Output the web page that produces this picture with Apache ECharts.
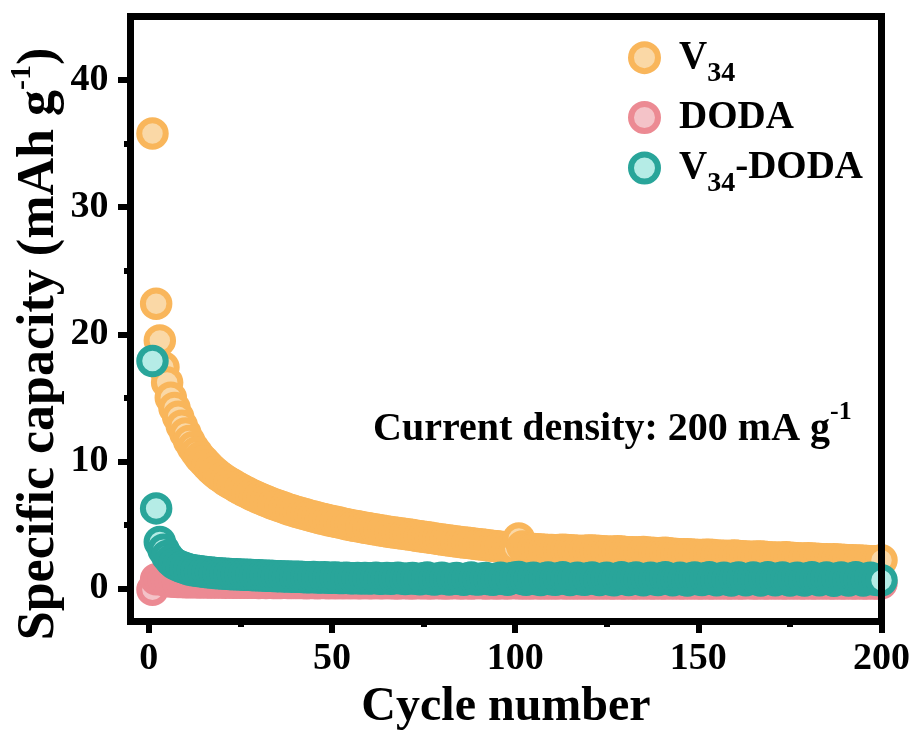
<!DOCTYPE html>
<html>
<head>
<meta charset="utf-8">
<script src="https://cdn.jsdelivr.net/npm/echarts@6/dist/echarts.min.js"></script>
<style>
  html, body { margin: 0; padding: 0; background: #fff; }
  #chart { width: 917px; height: 740px; }
</style>
</head>
<body>
<div id="chart"></div>
<script>
// Cycle numbers
const cycles = Array.from({ length: 200 }, (_, i) => i + 1);

// Specific capacity (mAh g-1) per cycle
const capV34 = [
  35.8, 22.4, 19.5, 17.4, 16.2, 15.0, 14.2, 13.5, 12.8, 12.2,
  11.6, 11.1, 10.7, 10.3, 10.0, 9.7, 9.4, 9.15, 8.9, 8.7,
  8.5, 8.32, 8.15, 7.98, 7.82, 7.66, 7.52, 7.38, 7.25, 7.12,
  7.0, 6.88, 6.76, 6.65, 6.55, 6.44, 6.34, 6.24, 6.15, 6.06,
  5.97, 5.89, 5.81, 5.73, 5.66, 5.58, 5.51, 5.44, 5.37, 5.3,
  5.24, 5.18, 5.12, 5.06, 5.0, 4.94, 4.89, 4.83, 4.78, 4.73,
  4.68, 4.63, 4.58, 4.54, 4.49, 4.45, 4.41, 4.37, 4.33, 4.29,
  4.24, 4.2, 4.15, 4.11, 4.06, 4.02, 3.98, 3.94, 3.9, 3.86,
  3.82, 3.78, 3.74, 3.7, 3.66, 3.62, 3.59, 3.55, 3.52, 3.48,
  3.45, 3.41, 3.38, 3.35, 3.32, 3.28, 3.25, 3.22, 3.19, 3.16,
  3.93, 3.3, 3.15, 3.12, 3.1, 3.08, 3.06, 3.05, 3.03, 3.02,
  3.0, 3.02, 3.05, 3.03, 3.0, 2.98, 2.97, 2.95, 2.97, 2.99,
  2.98, 2.96, 2.94, 2.92, 2.9, 2.89, 2.91, 2.93, 2.9, 2.87,
  2.85, 2.84, 2.82, 2.84, 2.86, 2.83, 2.8, 2.78, 2.77, 2.79,
  2.8, 2.77, 2.74, 2.72, 2.7, 2.69, 2.7, 2.68, 2.66, 2.64,
  2.63, 2.65, 2.66, 2.63, 2.6, 2.58, 2.57, 2.56, 2.58, 2.59,
  2.56, 2.53, 2.51, 2.5, 2.49, 2.51, 2.52, 2.49, 2.46, 2.44,
  2.43, 2.42, 2.44, 2.45, 2.42, 2.39, 2.37, 2.36, 2.35, 2.37,
  2.36, 2.33, 2.31, 2.3, 2.29, 2.28, 2.3, 2.27, 2.25, 2.23,
  2.22, 2.21, 2.2, 2.19, 2.18, 2.16, 2.15, 2.14, 2.13, 2.22
];

const capDODA = [
  -0.1, 0.72, 0.78, 0.66, 0.58, 0.54, 0.52, 0.5, 0.5, 0.49,
  0.49, 0.48, 0.48, 0.47, 0.48, 0.47, 0.46, 0.47, 0.46, 0.46,
  0.45, 0.46, 0.45, 0.45, 0.44, 0.45, 0.44, 0.45, 0.44, 0.43,
  0.44, 0.43, 0.44, 0.43, 0.42, 0.43, 0.44, 0.42, 0.43, 0.42,
  0.43, 0.42, 0.41, 0.43, 0.42, 0.41, 0.42, 0.43, 0.41, 0.42,
  0.41, 0.42, 0.4, 0.42, 0.41, 0.43, 0.4, 0.41, 0.42, 0.4,
  0.41, 0.42, 0.4, 0.41, 0.43, 0.4, 0.41, 0.39, 0.42, 0.4,
  0.41, 0.39, 0.42, 0.4, 0.41, 0.4, 0.39, 0.42, 0.4, 0.41,
  0.39, 0.41, 0.4, 0.42, 0.39, 0.4, 0.41, 0.39, 0.4, 0.42,
  0.4, 0.39, 0.41, 0.4, 0.38, 0.41, 0.4, 0.39, 0.42, 0.4,
  0.41, 0.39, 0.4, 0.38, 0.41, 0.4, 0.39, 0.41, 0.38, 0.4,
  0.39, 0.41, 0.4, 0.38, 0.4, 0.39, 0.41, 0.38, 0.4, 0.39,
  0.4, 0.38, 0.41, 0.39, 0.4, 0.38, 0.39, 0.41, 0.39, 0.38,
  0.4, 0.39, 0.38, 0.41, 0.39, 0.4, 0.38, 0.39, 0.4, 0.38,
  0.39, 0.41, 0.38, 0.4, 0.39, 0.38, 0.4, 0.39, 0.41, 0.38,
  0.39, 0.4, 0.38, 0.39, 0.41, 0.38, 0.4, 0.39, 0.38, 0.4,
  0.39, 0.38, 0.4, 0.41, 0.38, 0.39, 0.4, 0.38, 0.39, 0.41,
  0.38, 0.4, 0.39, 0.38, 0.4, 0.39, 0.41, 0.38, 0.39, 0.4,
  0.38, 0.39, 0.41, 0.38, 0.4, 0.39, 0.38, 0.4, 0.39, 0.38,
  0.4, 0.39, 0.38, 0.41, 0.39, 0.38, 0.4, 0.39, 0.38, 0.4
];

const capV34DODA = [
  17.9, 6.3, 3.65, 3.05, 2.55, 2.2, 1.95, 1.8, 1.68, 1.58,
  1.5, 1.44, 1.39, 1.35, 1.31, 1.28, 1.25, 1.22, 1.2, 1.18,
  1.16, 1.14, 1.12, 1.11, 1.09, 1.08, 1.07, 1.05, 1.04, 1.03,
  1.02, 1.0, 0.99, 0.98, 0.97, 0.96, 0.95, 0.94, 0.93, 0.92,
  0.92, 0.9, 0.89, 0.88, 0.9, 0.87, 0.86, 0.88, 0.85, 0.84,
  0.86, 0.83, 0.82, 0.85, 0.81, 0.8, 0.83, 0.79, 0.82, 0.78,
  0.8, 0.84, 0.77, 0.79, 0.82, 0.76, 0.8, 0.85, 0.78, 0.74,
  0.79, 0.83, 0.76, 0.72, 0.8, 0.86, 0.75, 0.71, 0.78, 0.84,
  0.77, 0.7, 0.76, 0.82, 0.74, 0.69, 0.79, 0.86, 0.73, 0.7,
  0.78, 0.83, 0.72, 0.68, 0.77, 0.85, 0.74, 0.69, 0.8, 0.87,
  0.9, 0.75, 0.68, 0.79, 0.84, 0.72, 0.67, 0.78, 0.86, 0.73,
  0.69, 0.81, 0.88, 0.74, 0.66, 0.77, 0.85, 0.72, 0.68, 0.8,
  0.87, 0.75, 0.66, 0.76, 0.84, 0.71, 0.65, 0.79, 0.88, 0.74,
  0.67, 0.78, 0.86, 0.72, 0.64, 0.77, 0.85, 0.73, 0.66, 0.81,
  0.89, 0.76, 0.65, 0.75, 0.84, 0.7, 0.63, 0.78, 0.87, 0.73,
  0.66, 0.8, 0.88, 0.74, 0.64, 0.76, 0.85, 0.71, 0.63, 0.79,
  0.87, 0.75, 0.65, 0.77, 0.86, 0.72, 0.62, 0.78, 0.88, 0.74,
  0.64, 0.79, 0.87, 0.73, 0.63, 0.76, 0.85, 0.7, 0.62, 0.8,
  0.88, 0.75, 0.64, 0.77, 0.86, 0.72, 0.61, 0.78, 0.87, 0.73,
  0.63, 0.79, 0.88, 0.74, 0.62, 0.76, 0.85, 0.7, 0.66, 0.65
];

// Axis ranges and tick settings
const xRange = [-5, 200];
const yRange = [-2.6, 45];
const xTickRange = [0, 200];
const yTickRange = [0, 40];
const xMajor = 50;
const yMajor = 10;

const FONT = 'Liberation Serif';
const W = 917, H = 740;
const frame = { left: 130.5, right: 881.5, top: 16.5, bottom: 621.5 };
const pxX = (frame.right - frame.left) / (xRange[1] - xRange[0]);
const pxY = (frame.bottom - frame.top) / (yRange[1] - yRange[0]);

const grids = [
  { left: frame.left, right: W - frame.right, top: frame.top, bottom: H - frame.bottom },
  { // x tick scale: spans 0..200 horizontally
    left: frame.left + (xTickRange[0] - xRange[0]) * pxX,
    right: W - frame.right + (xRange[1] - xTickRange[1]) * pxX,
    top: frame.top, bottom: H - frame.bottom
  },
  { // y tick scale: spans 0..40 vertically
    left: frame.left, right: W - frame.right,
    top: frame.top + (yRange[1] - yTickRange[1]) * pxY,
    bottom: H - (frame.bottom - (yTickRange[0] - yRange[0]) * pxY)
  }
].map(g => Object.assign(g, { containLabel: false, outerBoundsMode: 'none' }));

const frameLine = { show: true, onZero: false, lineStyle: { color: '#000', width: 7, cap: 'square' } };
const hidden = { show: false };

function frameAxis(gridIndex, position, range) {
  return {
    type: 'value', gridIndex, position, min: range[0], max: range[1],
    axisLine: frameLine, axisTick: hidden, axisLabel: hidden, splitLine: hidden, z: 10
  };
}

const labelStyle = { color: '#000', fontFamily: FONT, fontWeight: 'bold', fontSize: 38 };
const tickLine = { color: '#000', width: 6 };

const series = [
  { name: 'V34', data: capV34, fill: '#FAD8A6', stroke: '#F9B65B' },
  { name: 'DODA', data: capDODA, fill: '#F4C3C8', stroke: '#EC8A93' },
  { name: 'V34-DODA', data: capV34DODA, fill: '#B5ECE6', stroke: '#29A59A' }
].map(s => ({
  type: 'scatter', name: s.name, xAxisIndex: 0, yAxisIndex: 0,
  symbol: 'circle', symbolSize: 26.5, clip: true,
  itemStyle: { color: s.fill, borderColor: s.stroke, borderWidth: 6, opacity: 1 },
  emphasis: { disabled: true },
  data: cycles.map((c, i) => [c, s.data[i]])
}));

const legendLabels = {
  'V34': '{b|V}{s|34}',
  'DODA': '{b|DODA}',
  'V34-DODA': '{b|V}{s|34}{b|-DODA}'
};
const legendRich = {
  b: { fontFamily: FONT, fontWeight: 'bold', fontSize: 39, lineHeight: 58, color: '#000' },
  s: { fontFamily: FONT, fontWeight: 'bold', fontSize: 28, lineHeight: 28, padding: [32, 0, 0, 0], color: '#000' }
};
const legendTops = [27.7, 98, 138];
const legends = series.map((s, i) => ({
  data: [s.name], orient: 'vertical', left: 628, top: legendTops[i], padding: 0,
  itemWidth: 59, itemHeight: 27, selectedMode: false, icon: 'circle',
  itemStyle: { borderWidth: 6 },
  formatter: name => legendLabels[name],
  textStyle: { rich: legendRich }
}));

const option = {
  animation: false,
  backgroundColor: '#fff',
  grid: grids,
  title: {
    text: '{b|Current density: 200 mA g}{p|-1}',
    left: 373, top: 399, padding: 0,
    textStyle: {
      rich: {
        b: { fontFamily: FONT, fontWeight: 'bold', fontSize: 40, color: '#000' },
        p: { fontFamily: FONT, fontWeight: 'bold', fontSize: 26, padding: [0, 0, 36, 0], color: '#000' }
      }
    }
  },
  legend: legends,
  xAxis: [
    Object.assign(frameAxis(0, 'bottom', xRange), {
      name: 'Cycle number', nameLocation: 'middle', nameGap: 62,
      nameTextStyle: { color: '#000', fontFamily: FONT, fontWeight: 'bold', fontSize: 48 }
    }),
    frameAxis(0, 'top', xRange),
    {
      type: 'value', gridIndex: 1, position: 'bottom',
      min: xTickRange[0], max: xTickRange[1], interval: xMajor,
      axisLine: { show: false, onZero: false }, splitLine: hidden,
      axisTick: { show: true, length: 11.5, lineStyle: tickLine },
      minorTick: { show: true, splitNumber: 2, length: 5.5, lineStyle: tickLine },
      axisLabel: Object.assign({ margin: 19 }, labelStyle)
    },
    { type: 'value', gridIndex: 2, show: false, min: 0, max: 1 }
  ],
  yAxis: [
    Object.assign(frameAxis(0, 'left', yRange), {
      name: '{t|Specific capacity (mAh g}{p|-1}{t|)}',
      nameLocation: 'middle', nameGap: 58,
      nameTextStyle: {
        padding: [0, 50, 0, 0],
        rich: {
          t: { fontFamily: FONT, fontWeight: 'bold', fontSize: 52, color: '#000' },
          p: { fontFamily: FONT, fontWeight: 'bold', fontSize: 30, padding: [0, 0, 35, 0], color: '#000' }
        }
      }
    }),
    frameAxis(0, 'right', yRange),
    { type: 'value', gridIndex: 1, show: false, min: 0, max: 1 },
    {
      type: 'value', gridIndex: 2, position: 'left',
      min: yTickRange[0], max: yTickRange[1], interval: yMajor,
      axisLine: { show: false, onZero: false }, splitLine: hidden,
      axisTick: { show: true, length: 12.5, lineStyle: tickLine },
      minorTick: { show: true, splitNumber: 2, length: 6.5, lineStyle: tickLine },
      axisLabel: Object.assign({ margin: 22 }, labelStyle)
    }
  ],
  series
};

const chart = echarts.init(document.getElementById('chart'), null, { renderer: 'canvas' });
chart.setOption(option);
</script>
</body>
</html>
